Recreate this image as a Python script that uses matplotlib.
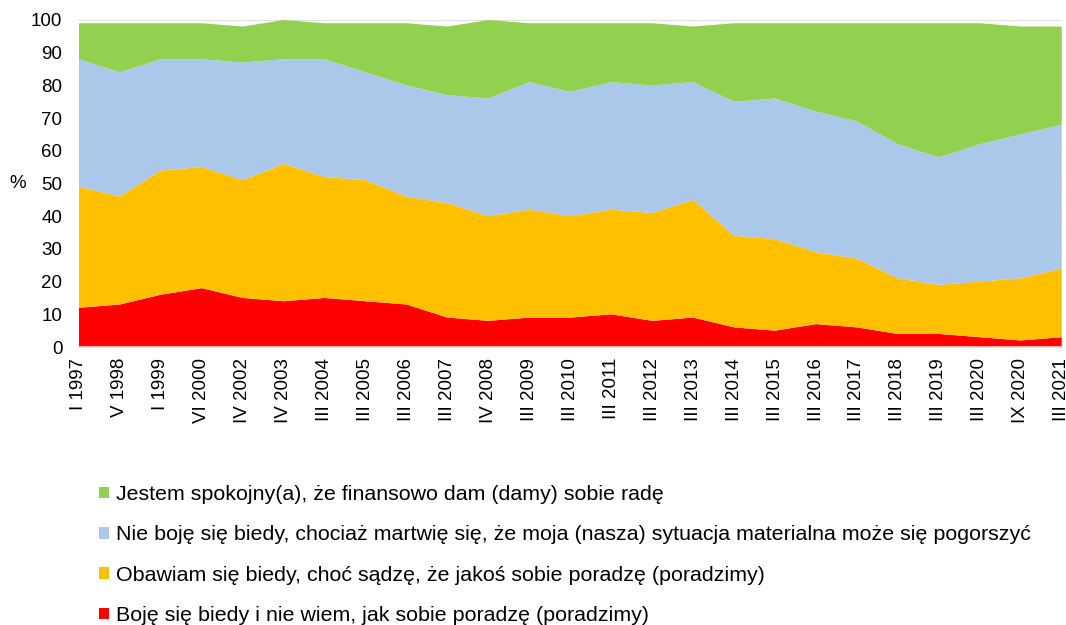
import matplotlib
matplotlib.use("Agg")
import matplotlib.pyplot as plt
from matplotlib.patches import Patch
import numpy as np

plt.rcParams['font.family'] = ['Liberation Sans', 'DejaVu Sans']

categories = ["I 1997", "V 1998", "I 1999", "VI 2000", "IV 2002", "IV 2003", "III 2004",
              "III 2005", "III 2006", "III 2007", "IV 2008", "III 2009", "III 2010",
              "III 2011", "III 2012", "III 2013", "III 2014", "III 2015", "III 2016",
              "III 2017", "III 2018", "III 2019", "III 2020", "IX 2020", "III 2021"]

# cumulative levels
red_top    = [12, 13, 16, 18, 15, 14, 15, 14, 13, 9, 8, 9, 9, 10, 8, 9, 6, 5, 7, 6, 4, 4, 3, 2, 3]
orange_top = [49, 46, 54, 55, 51, 56, 52, 51, 46, 44, 40, 42, 40, 42, 41, 45, 34, 33, 29, 27, 21, 19, 20, 21, 24]
blue_top   = [88, 84, 88, 88, 87, 88, 88, 84, 80, 77, 76, 81, 78, 81, 80, 81, 75, 76, 72, 69, 62, 58, 62, 65, 68]
green_top  = [99, 99, 99, 99, 98, 100, 99, 99, 99, 98, 100, 99, 99, 99, 99, 98, 99, 99, 99, 99, 99, 99, 99, 98, 98]

red    = list(np.array(red_top))
orange = list(np.array(orange_top) - np.array(red_top))
blue   = list(np.array(blue_top) - np.array(orange_top))
green  = list(np.array(green_top) - np.array(blue_top))

labels = ["Boję się biedy i nie wiem, jak sobie poradzę (poradzimy)",
          "Obawiam się biedy, choć sądzę, że jakoś sobie poradzę (poradzimy)",
          "Nie boję się biedy, chociaż martwię się, że moja (nasza) sytuacja materialna może się pogorszyć",
          "Jestem spokojny(a), że finansowo dam (damy) sobie radę"]
colors = ["#FF0000", "#FFC000", "#ABC8EB", "#92D050"]

fig = plt.figure(figsize=(10.66, 6.25), dpi=100)
ax = fig.add_axes([0.0741, 0.4448, 0.9219, 0.5232])

x = np.arange(len(categories))
ax.stackplot(x, red, orange, blue, green, colors=colors, linewidth=0, zorder=2)

ax.set_xlim(0, len(categories) - 1)
ax.set_ylim(0, 100)
ax.set_yticks(range(0, 101, 10))
ax.set_xticks(x)
ax.set_xticklabels(categories, rotation=90, fontsize=13.5)
ax.tick_params(axis='y', labelsize=13.5, length=0, pad=12)
ax.tick_params(axis='x', length=0, pad=8)
ax.yaxis.grid(True, color="#D9D9D9", linewidth=1.2, zorder=0)
ax.set_axisbelow(True)
for s in ['top', 'right', 'left']:
    ax.spines[s].set_visible(False)
ax.spines['bottom'].set_color("#D9D9D9")
ax.spines['bottom'].set_linewidth(1.2)
ax.spines['bottom'].set_zorder(3)

fig.text(18 / 1066, 1 - 184 / 625, "%", fontsize=13.5, ha='center', va='center')

handles = [Patch(facecolor=colors[i], edgecolor='none') for i in [3, 2, 1, 0]]
leg_labels = [labels[i] for i in [3, 2, 1, 0]]
fig.legend(handles, leg_labels, loc='upper left', bbox_to_anchor=(99 / 1066, 1 - 485 / 625),
           frameon=False, fontsize=15.4, handlelength=0.45, handleheight=0.45,
           handletextpad=0.33, labelspacing=1.0, borderpad=0, borderaxespad=0)

fig.savefig("out.png", dpi=100)
